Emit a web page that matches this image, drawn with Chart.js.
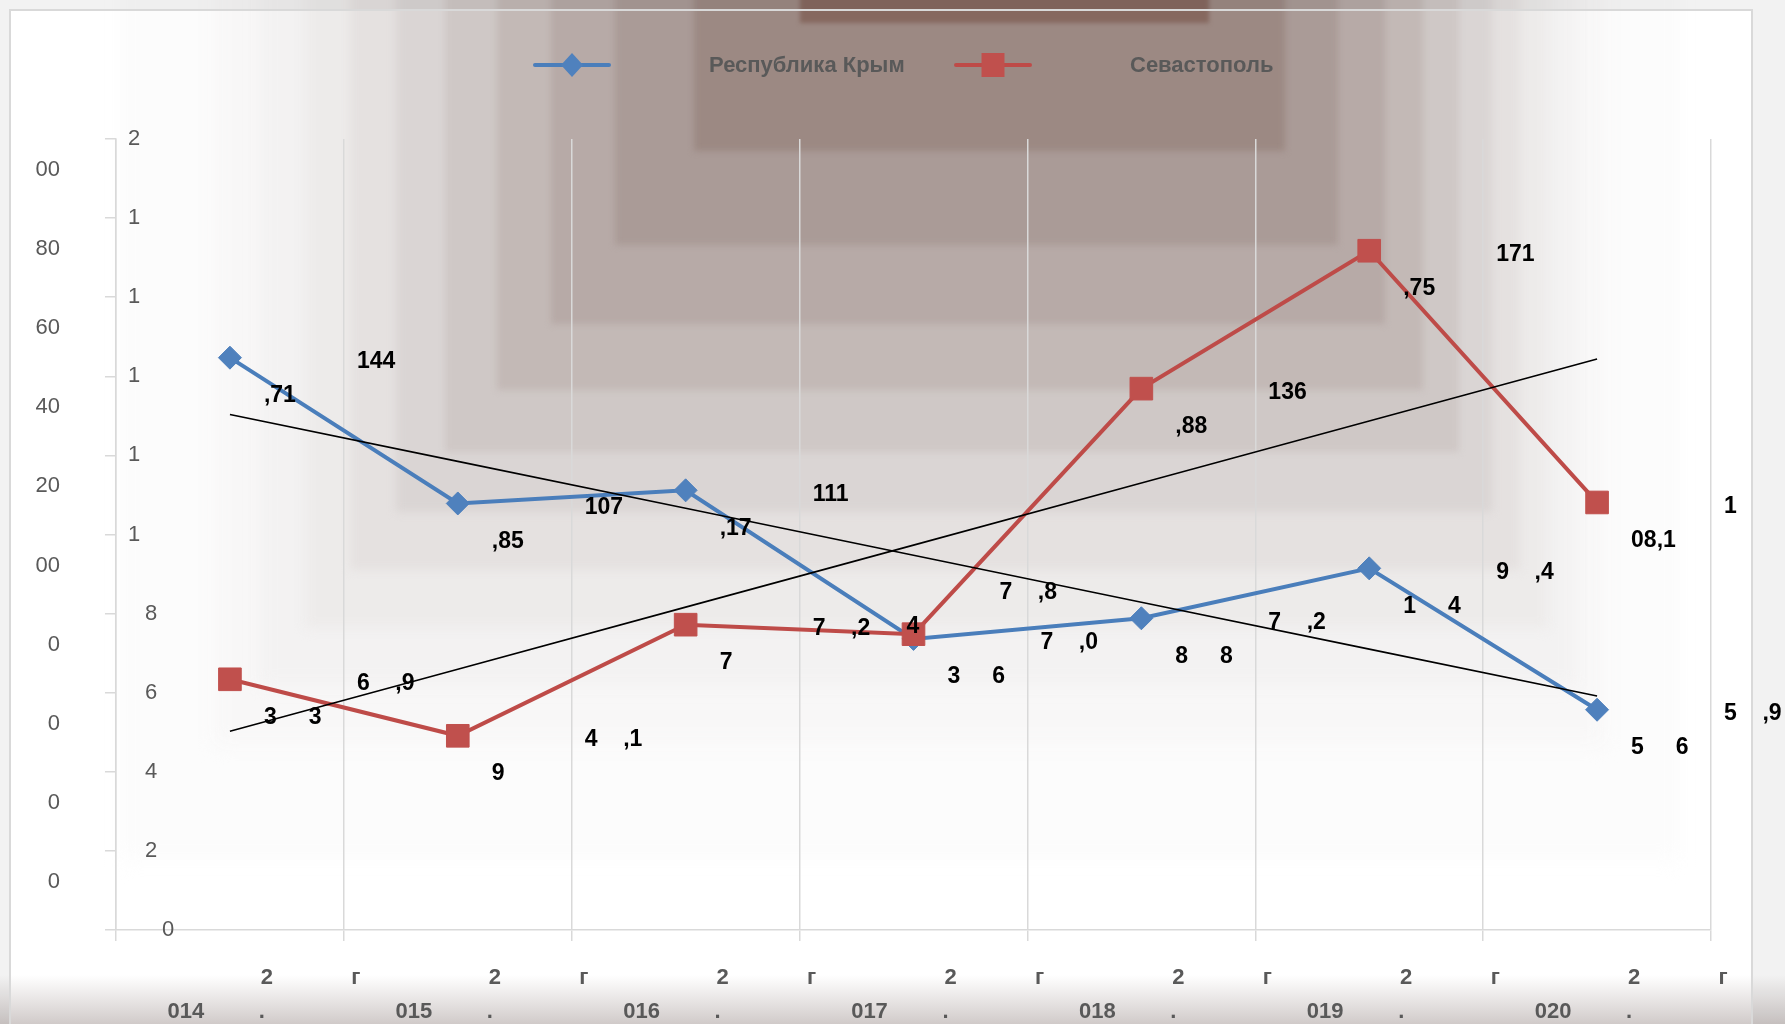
<!DOCTYPE html>
<html><head><meta charset="utf-8">
<script src="https://cdn.jsdelivr.net/npm/chart.js@4.4.1/dist/chart.umd.min.js"></script>
<style>html,body{margin:0;padding:0;background:#fff;overflow:hidden}canvas{display:block}</style>
</head><body>
<canvas id="c" width="1785" height="1024"></canvas>
<script>
// ---- data ----
const categories = ['2014 г.','2015 г.','2016 г.','2017 г.','2018 г.','2019 г.','2020 г.'];
const seriesNames = ['Республика Крым','Севастополь'];
const crimeaValues = [144.71,107.85,111.17,73.60,78.82,91.44,55.69];
const sevastopolValues = [63.39,49.1,77.2,74.8,136.88,171.75,108.1];
// data labels as they appear (split into two lines)
const crimeaLabelLines = [['144',',71'],['107',',85'],['111',',17'],['7    ,0','3     6'],['7    ,2','8     8'],['9    ,4','1     4'],['5    ,9','5     6']];
const sevastopolLabelLines = [['6    ,9','3     3'],['4    ,1','9'],['7    ,2','7'],['7    ,8','4'],['136',',88'],['171',',75'],['1','08,1']];
const yMin = 0, yMax = 200, yStep = 20;

// linear trend (least squares), like the spreadsheet trendline
function trendOf(vals){
  const n = vals.length, mx = (n-1)/2;
  const my = vals.reduce((a,b)=>a+b,0)/n;
  let sxy = 0, sxx = 0;
  vals.forEach((v,i)=>{ sxy += (i-mx)*(v-my); sxx += (i-mx)*(i-mx); });
  const b = sxy/sxx;
  return vals.map((_,i)=> my + b*(i-mx));
}

const BLUE = '#4a7ebb', BLUE_M = '#4f81bd', RED = '#be4b48', RED_M = '#c0504d';
const TEXT_GRAY = '#595959';
const FONT = '"Liberation Sans", Arial, sans-serif';

const bgPlugin = {
  id: 'bg',
  beforeDraw(chart){
    const ctx = chart.ctx, W = chart.width, H = chart.height;
    ctx.save();
    ctx.fillStyle = '#ffffff';
    ctx.fillRect(0,0,W,H);
    const layers = [
      [120,1680,860,'#fcfcfc', 10],
      [215,1604,744,'#f8f7f7', 10],
      [260,1576,686,'#f3f2f2', 8],
      [305,1548,628,'#edebea', 6],
      [350,1520,570,'#e5e1e0', 5],
      [396,1492,512,'#dad5d4', 4],
      [445,1459,452,'#cfc8c6', 3],
      [497,1423,390,'#c3b9b6', 3],
      [551,1385,324,'#b7aaa7', 3],
      [615,1338,245,'#aa9b97', 3],
      [694,1285,151,'#9c8983', 3],
      [800,1209,23,'#86685f', 2]
    ];
    layers.forEach(([l,r,b,c,bl])=>{
      ctx.filter = 'blur(' + bl + 'px)';
      ctx.fillStyle = c; ctx.fillRect(l,-30,r-l,b+30);
    });
    ctx.filter = 'none';
    const g = ctx.createLinearGradient(0,975,0,H);
    g.addColorStop(0,'rgba(212,206,205,0)');
    g.addColorStop(1,'rgba(208,202,201,1)');
    ctx.fillStyle = g;
    ctx.fillRect(0,975,W,H-975);
    // outside the frame
    ctx.fillStyle = 'rgba(0,0,0,0.05)';
    ctx.fillRect(0,0,10,H);
    ctx.fillRect(1752,0,W-1752,H);
    ctx.fillRect(10,0,1742,10);
    ctx.strokeStyle = '#d9d9d9';
    ctx.lineWidth = 2;
    ctx.strokeRect(10,10,1742,1100);
    ctx.restore();
  }
};

function drawSpaced(ctx, str, left, y){
  // draws a string keeping its inner spacing
  let i = 0;
  while (i < str.length){
    if (str[i] === ' '){ i++; continue; }
    let j = i;
    while (j < str.length && str[j] !== ' ') j++;
    const x = left + ctx.measureText(str.substring(0,i)).width;
    ctx.fillText(str.substring(i,j), x, y);
    i = j;
  }
}

const textPlugin = {
  id: 'texts',
  afterDraw(chart){
    const ctx = chart.ctx;
    const xs = chart.scales.x, ys = chart.scales.y, area = chart.chartArea;
    ctx.save();
    // y tick labels
    ctx.fillStyle = TEXT_GRAY;
    ctx.font = '22px ' + FONT;
    ctx.textBaseline = 'middle';
    ys.ticks.forEach(t=>{
      const s = String(t.value);
      const py = ys.getPixelForValue(t.value);
      ctx.textAlign = 'left';
      ctx.fillText(s[0], area.left + 63 - 17*s.length, py);
      if (s.length > 1){
        ctx.textAlign = 'right';
        ctx.fillText(s.slice(1), 60, py + 31);
      }
    });
    // x category labels
    ctx.font = 'bold 22px ' + FONT;
    ctx.textAlign = 'center';
    categories.forEach((lab,i)=>{
      const cx = xs.getPixelForValue(i);
      const parts = lab.split(' ');
      const year = parts[0], suf = parts[1] || '';
      ctx.fillText(year[0], cx + 37, 978);
      ctx.fillText(suf[0] || '', cx + 126, 978);
      ctx.fillText(year.slice(1), cx - 44, 1012);
      ctx.fillText(suf.slice(1), cx + 32, 1012);
    });
    // data labels
    ctx.fillStyle = '#000';
    ctx.font = 'bold 23px ' + FONT;
    ctx.textAlign = 'left';
    const shifts = {'1-3': [-41,-46]};
    [[0,crimeaLabelLines],[1,sevastopolLabelLines]].forEach(([di,lines])=>{
      const meta = chart.getDatasetMeta(di);
      meta.data.forEach((pt,i)=>{
        const sh = shifts[di+'-'+i] || [0,0];
        const [l1,l2] = lines[i];
        drawSpaced(ctx, l1, pt.x + 127 + sh[0], pt.y + 4 + sh[1]);
        drawSpaced(ctx, l2, pt.x + 34 + sh[0], pt.y + 38 + sh[1]);
      });
    });
    // legend
    const legendItems = [
      {name: seriesNames[0], line: BLUE, fill: BLUE_M, shape: 'diamond', x0: 535, x1: 609, tx: 709},
      {name: seriesNames[1], line: RED, fill: RED_M, shape: 'square', x0: 956, x1: 1030, tx: 1130}
    ];
    const ly = 65;
    legendItems.forEach(it=>{
      ctx.strokeStyle = it.line; ctx.lineWidth = 4; ctx.lineCap = 'round';
      ctx.beginPath(); ctx.moveTo(it.x0, ly); ctx.lineTo(it.x1, ly); ctx.stroke();
      const mx = (it.x0 + it.x1)/2;
      ctx.fillStyle = it.fill;
      ctx.beginPath();
      if (it.shape === 'diamond'){
        ctx.moveTo(mx, ly-12); ctx.lineTo(mx+11, ly); ctx.lineTo(mx, ly+12); ctx.lineTo(mx-11, ly); ctx.closePath();
      } else {
        ctx.rect(mx-11.5, ly-12, 23, 24);
      }
      ctx.fill();
      ctx.fillStyle = TEXT_GRAY;
      ctx.font = 'bold 22px ' + FONT;
      ctx.textAlign = 'left';
      ctx.textBaseline = 'middle';
      ctx.fillText(it.name, it.tx, ly + 1);
    });
    ctx.restore();
  }
};

new Chart(document.getElementById('c'), {
  type: 'line',
  data: {
    labels: categories,
    datasets: [
      {label: seriesNames[0], data: crimeaValues, borderColor: BLUE, backgroundColor: BLUE_M, borderWidth: 4,
       pointStyle: 'rectRot', pointRadius: 11.5, pointBackgroundColor: BLUE_M, pointBorderColor: BLUE_M, pointBorderWidth: 1, tension: 0, order: 3},
      {label: seriesNames[1], data: sevastopolValues, borderColor: RED, backgroundColor: RED_M, borderWidth: 4,
       pointStyle: 'rect', pointRadius: 16, pointBackgroundColor: RED_M, pointBorderColor: RED_M, pointBorderWidth: 1, tension: 0, order: 2},
      {label: 'trend1', data: trendOf(crimeaValues), borderColor: '#000', borderWidth: 1.6, pointRadius: 0, tension: 0, order: 1},
      {label: 'trend2', data: trendOf(sevastopolValues), borderColor: '#000', borderWidth: 1.6, pointRadius: 0, tension: 0, order: 0}
    ]
  },
  options: {
    responsive: false, animation: false, devicePixelRatio: 1,
    layout: {padding: {left: 0, right: 74, top: 139, bottom: 0}},
    plugins: {legend: {display: false}, tooltip: {enabled: false}},
    scales: {
      x: {offset: true, grid: {offset: true, color: '#d9d9d9', lineWidth: 1.5, tickLength: 11, drawTicks: true},
          border: {color: '#d9d9d9', width: 1.5}, ticks: {display: false},
          afterFit(s){ s.height = 94; }},
      y: {min: yMin, max: yMax, ticks: {stepSize: yStep, display: false},
          grid: {drawOnChartArea: false, color: '#d9d9d9', lineWidth: 1.5, tickLength: 11, drawTicks: true},
          border: {color: '#d9d9d9', width: 1.5},
          afterFit(s){ s.width = 116; }}
    }
  },
  plugins: [bgPlugin, textPlugin]
});
</script>
</body></html>
